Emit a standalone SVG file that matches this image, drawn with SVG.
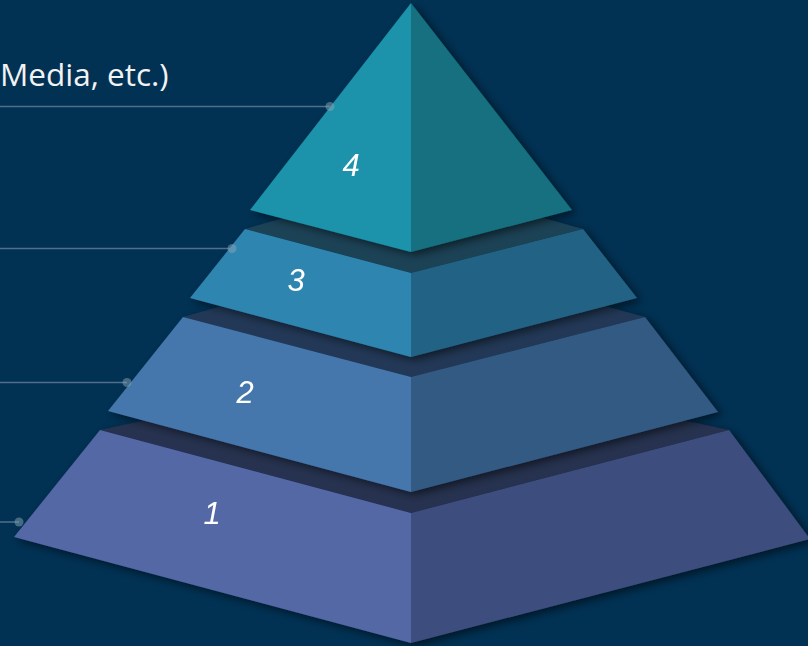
<svg xmlns="http://www.w3.org/2000/svg" width="808" height="646" viewBox="0 0 808 646">
  <style>
    .num { font-family: "Liberation Sans", Arial, sans-serif; font-size: 31px; font-style: italic; fill: #ffffff; text-anchor: middle; }
    .lbl { font-family: "Open Sans", "Liberation Sans", sans-serif; font-size: 31.5px; fill: #f2f2f2; }
    .conn { stroke: #4f6f8a; stroke-width: 1.5; fill: none; }
    .dot { fill: #8aa3b6; fill-opacity: 0.5; }
  </style>
  <defs>
    <filter id="sh" x="-10%" y="-10%" width="130%" height="130%">
      <feDropShadow dx="4" dy="3" stdDeviation="4" flood-color="#000000" flood-opacity="0.55"/>
    </filter>
  </defs>
  <rect x="0" y="0" width="808" height="646" fill="#013153"/>

  <text class="lbl" x="0" y="86">Media, etc.)</text>

  <g id="connectors">
    <line class="conn" x1="0" y1="106.5" x2="330" y2="106.5"/>
    <line class="conn" x1="0" y1="248.5" x2="232" y2="248.5"/>
    <line class="conn" x1="0" y1="382.5" x2="127" y2="382.5"/>
    <line class="conn" x1="0" y1="522" x2="19" y2="522"/>
  </g>

  <g id="tier1" filter="url(#sh)">
    <polygon points="100,430 411,362 729,430 411,513" fill="#28304f"/>
    <polygon points="100,430 411,513 411,643 14,537" fill="#5367a5"/>
    <polygon points="411,513 729,430 810,539 411,643" fill="#3d4d7d"/>
    <text class="num" x="212" y="524">1</text>
  </g>

  <g id="tier2" filter="url(#sh)">
    <polygon points="183,317 411,253 645,317 411,377" fill="#223957"/>
    <polygon points="183,317 411,377 411,492 108,411" fill="#4477ad"/>
    <polygon points="411,377 645,317 718,412 411,492" fill="#335a83"/>
    <text class="num" x="245" y="403">2</text>
  </g>

  <g id="tier3" filter="url(#sh)">
    <polygon points="245,229 411,181 583,229 411,273" fill="#1a4257"/>
    <polygon points="245,229 411,273 411,357 190,298" fill="#2e86b0"/>
    <polygon points="411,273 583,229 637,298 411,357" fill="#236385"/>
    <text class="num" x="296" y="291">3</text>
  </g>

  <g id="tier4" filter="url(#sh)">
    <polygon points="411,3 411,252 250,210" fill="#1a93ab"/>
    <polygon points="411,3 572,210 411,252" fill="#136f80"/>
    <text class="num" x="351" y="176">4</text>
  </g>

  <g id="dots">
    <circle class="dot" cx="330" cy="106.5" r="4.5"/>
    <circle class="dot" cx="232" cy="248.5" r="4.5"/>
    <circle class="dot" cx="127" cy="382.5" r="4.5"/>
    <circle class="dot" cx="19" cy="522" r="4.5"/>
  </g>
</svg>
